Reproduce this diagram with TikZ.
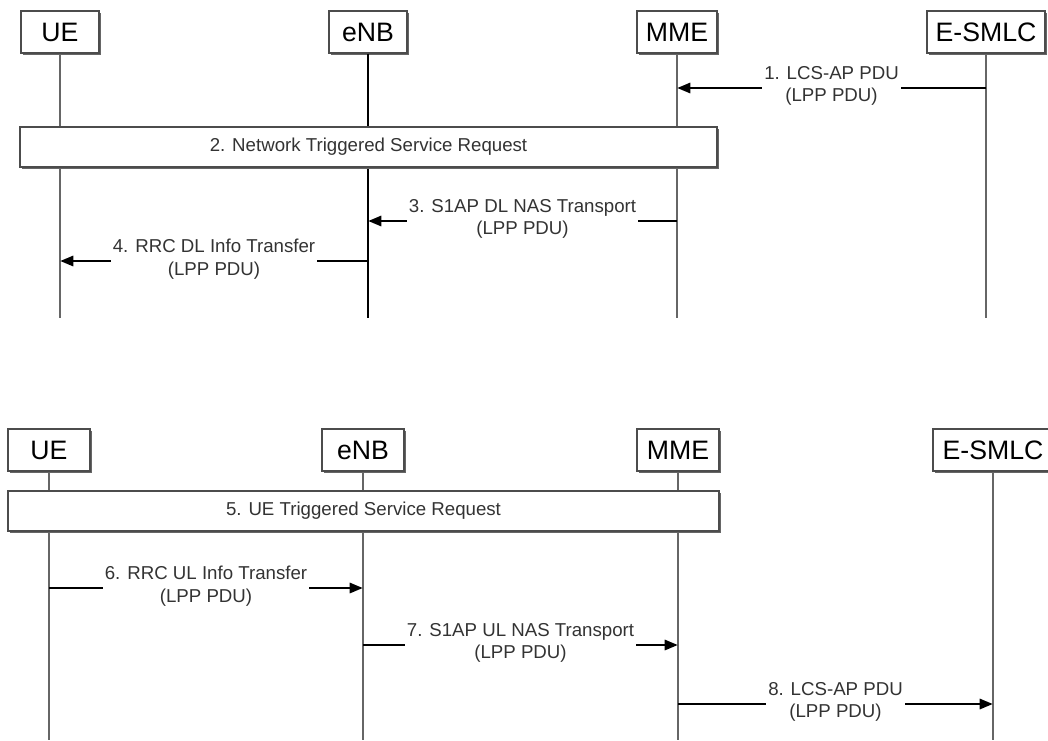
\documentclass[tikz,border=0pt]{standalone}
\usepackage{fontspec}
\setmainfont{Liberation Sans}
\usetikzlibrary{arrows.meta,shadows}

\tikzset{
	entity/.style={draw=black!70, line width=1.4pt, fill=white, minimum height=31.5pt, inner sep=1pt,
		font=\fontsize{20}{22}\selectfont,
		drop shadow={shadow xshift=1.5pt, shadow yshift=-1.5pt, fill=black!60, opacity=1}},
	procbox/.style={entity, minimum height=30pt, text=black!80, font=\fontsize{14}{17}\selectfont},
	lifeline/.style={draw=black!60, line width=2pt},
	msg/.style={draw=black, line width=2.2pt, -{Triangle[length=10pt,width=7.5pt]}},
	msglabel/.style={fill=white, align=center, text=black!80, inner sep=1.5pt, yshift=1.5pt,
		font=\fontsize{14}{17}\selectfont}
}

\begin{document}
\begin{tikzpicture}[x=0.75pt,y=0.75pt,yscale=-1,xscale=1]
		\useasboundingbox (0,0) rectangle (1048,740);
		
		% first flow: E-SMLC to UE
		\node [entity, minimum width=59pt] (ue1) at (60,32) {UE};
		\node [entity, minimum width=59pt] (enb1) at (368,32) {eNB};
		\node [entity, minimum width=60pt] (mme1) at (677,32) {MME};
		\node [entity, minimum width=88pt] (smlc1) at (986,32) {E-SMLC};
		\coordinate (bot1) at (0,318);
		
		\draw [lifeline] (ue1.south) -- (ue1 |- bot1);
		\draw [lifeline, draw=black, line width=2pt] (enb1.south) -- (enb1 |- bot1);
		\draw [lifeline] (mme1.south) -- (mme1 |- bot1);
		\draw [lifeline] (smlc1.south) -- (smlc1 |- bot1);
		
		\coordinate (r1) at (0,88);
		\draw [msg] (smlc1 |- r1) -- node [msglabel] (t1) {1. LCS-AP PDU\\(LPP PDU)} (mme1 |- r1);
		
		\node [procbox, minimum width=522.75pt] (sr1) at (368.5,147) {2. Network Triggered Service Request};
		
		\coordinate (r3) at (0,221);
		\draw [msg] (mme1 |- r3) -- node [msglabel] (t3) {3. S1AP DL NAS Transport\\(LPP PDU)} (enb1 |- r3);
		
		\coordinate (r4) at (0,261);
		\draw [msg] (enb1 |- r4) -- node [msglabel] (t4) {4. RRC DL Info Transfer\\(LPP PDU)} (ue1 |- r4);
		
		
		% second flow: UE to E-SMLC
		\node [entity, minimum width=61pt] (ue2) at (49,450) {UE};
		\node [entity, minimum width=61pt] (enb2) at (363,450) {eNB};
		\node [entity, minimum width=61pt] (mme2) at (678,450) {MME};
		\node [entity, minimum width=90pt] (smlc2) at (993,450) {E-SMLC};
		\coordinate (bot2) at (0,740);
		
		\draw [lifeline] (ue2.south) -- (ue2 |- bot2);
		\draw [lifeline] (enb2.south) -- (enb2 |- bot2);
		\draw [lifeline] (mme2.south) -- (mme2 |- bot2);
		\draw [lifeline] (smlc2.south) -- (smlc2 |- bot2);
		
		\node [procbox, minimum width=533.25pt] (sr2) at (363.5,511) {5. UE Triggered Service Request};
		
		\coordinate (r6) at (0,588);
		\draw [msg] (ue2 |- r6) -- node [msglabel] (t6) {6. RRC UL Info Transfer\\(LPP PDU)} (enb2 |- r6);
		
		\coordinate (r7) at (0,645);
		\draw [msg] (enb2 |- r7) -- node [msglabel] (t7) {7. S1AP UL NAS Transport\\(LPP PDU)} (mme2 |- r7);
		
		\coordinate (r8) at (0,704);
		\draw [msg] (mme2 |- r8) -- node [msglabel] (t8) {8. LCS-AP PDU\\(LPP PDU)} (smlc2 |- r8);
		
\end{tikzpicture}
\end{document}
